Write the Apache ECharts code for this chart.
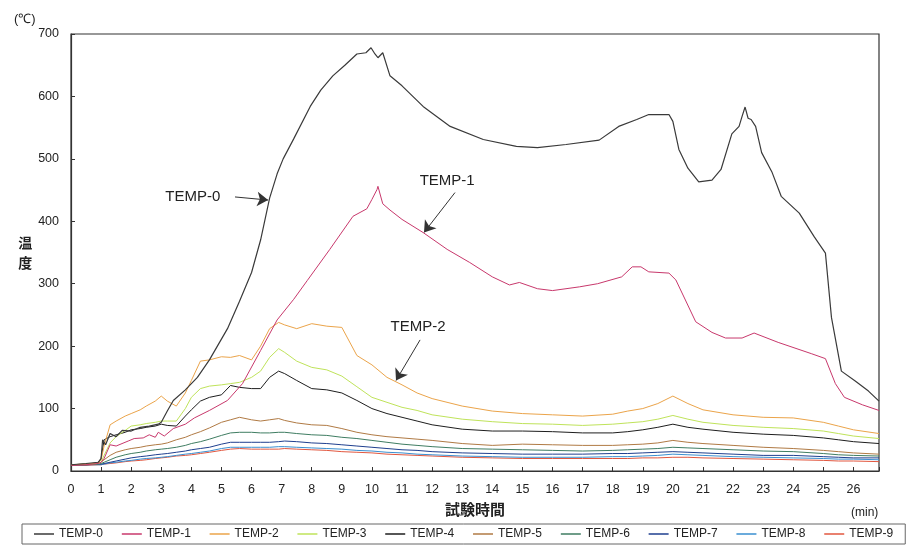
<!DOCTYPE html>
<html>
<head>
<meta charset="utf-8">
<title>温度測定</title>
<script src="https://cdn.jsdelivr.net/npm/echarts@6/dist/echarts.min.js"></script>
<style>
  html, body { margin: 0; padding: 0; background: #fff; }
  #chart { width: 910px; height: 546px; }
</style>
</head>
<body>
<div id="chart"></div>
<script>
// Time axis (min) shared by TEMP-2 … TEMP-9
const timeCommon = [0, 0.5, 0.9, 1.0, 1.1, 1.3, 1.5, 1.8, 2.0, 2.3, 2.5, 2.8, 3.0, 3.2, 3.5, 3.8, 4.0, 4.3, 4.6, 5.0,
  5.3, 5.6, 6.0, 6.3, 6.6, 6.9, 7.1, 7.5, 8.0, 8.5, 9.0, 9.5, 10.0, 10.5, 11.0, 11.5, 12, 13, 14, 15,
  16, 17, 18, 18.5, 19, 19.5, 20, 20.5, 21, 22, 23, 24, 25, 25.5, 26, 26.85];

// TEMP-0 has its own, finer time base
const time0 = [0, 0.5, 0.9, 1.0, 1.05, 1.15, 1.3, 1.5, 1.7, 2.0, 2.3, 2.6, 2.9, 3.0, 3.2, 3.4, 3.8, 4.2, 4.6, 5.2,
  5.6, 6.0, 6.3, 6.6, 6.85, 7.05, 7.4, 7.95, 8.3, 8.7, 9.1, 9.5, 9.8, 9.97, 10.1, 10.2, 10.36, 10.6, 11.0, 11.7,
  12.6, 13.7, 14.8, 15.5, 16.45, 17.55, 18.2, 18.8, 19.2, 19.87, 20.0, 20.2, 20.5, 20.86, 21.3, 21.6, 21.96, 22.2, 22.3, 22.4,
  22.5, 22.6, 22.75, 22.95, 23.3, 23.6, 24.2, 24.7, 25.07, 25.27, 25.6, 26.06, 26.5, 26.85];
const temp0 = [10, 12, 14, 20, 50, 42, 60, 55, 65, 64, 70, 72, 75, 78, 96, 113, 130, 150, 178, 228,
  272, 318, 370, 437, 476, 500, 532, 584, 610, 633, 650, 668, 670, 678, 668, 662, 670, 633, 617, 584,
  552, 531, 520, 518, 523, 530, 552, 563, 571, 571, 560, 515, 485, 463, 466, 483, 540, 552, 568, 583,
  565, 563, 552, 510, 478, 440, 413, 375, 349, 246, 160, 144, 128, 112];

// TEMP-1 time base
const time1 = [0, 0.5, 0.9, 1.0, 1.1, 1.3, 1.5, 1.9, 2.1, 2.4, 2.6, 2.8, 2.9, 3.1, 3.4, 3.8, 4.1, 4.6, 5.2, 5.7,
  6.3, 6.85, 7.4, 7.85, 8.6, 9.37, 9.83, 10.0, 10.17, 10.2, 10.36, 10.6, 11.0, 11.7, 12.5, 13.25, 14.0, 14.57, 14.9, 15.5,
  16.0, 16.9, 17.5, 18.3, 18.65, 18.94, 19.2, 19.87, 20.1, 20.76, 21.3, 21.75, 22.3, 22.7, 23.5, 24.6, 25.07, 25.4, 25.7, 26.3, 26.85];
const temp1 = [9, 10, 12, 14, 20, 42, 40, 48, 52, 53, 58, 54, 62, 56, 68, 75, 85, 97, 113, 140,
  193, 242, 275, 305, 355, 408, 420, 435, 451, 456, 428, 418, 403, 382, 355, 334, 311, 298, 302, 292,
  289, 295, 300, 311, 327, 327, 319, 317, 306, 239, 222, 213, 213, 221, 206, 188, 180, 140, 118, 106, 97];

const temp2 = [10, 11, 13, 18, 40, 74, 80, 88, 92, 98, 104, 112, 120, 112, 104, 125, 145, 176, 178, 183,
  182, 185, 178, 200, 228, 238, 234, 228, 236, 232, 230, 185, 170, 150, 138, 125, 116, 104, 96, 92,
  90, 88, 91, 96, 100, 108, 120, 108, 98, 90, 86, 85, 78, 72, 66, 60];
const temp3 = [10, 11, 12, 14, 25, 45, 55, 65, 72, 74, 76, 78, 80, 80, 80, 100, 118, 132, 136, 138,
  140, 142, 150, 160, 182, 196, 190, 176, 166, 162, 152, 135, 118, 110, 102, 97, 90, 83, 79, 76,
  75, 73, 75, 77, 79, 83, 89, 83, 78, 73, 70, 68, 64, 60, 56, 52];
const temp4 = [10, 11, 13, 20, 50, 55, 58, 62, 66, 68, 70, 72, 75, 73, 72, 88, 98, 112, 118, 122,
  137, 134, 132, 132, 150, 160, 156, 145, 132, 130, 125, 113, 100, 92, 86, 80, 74, 67, 64, 64,
  63, 61, 61, 63, 66, 70, 75, 70, 67, 62, 59, 57, 53, 50, 47, 44];
const temp5 = [10, 11, 12, 14, 18, 25, 30, 34, 36, 38, 40, 42, 43, 45, 50, 54, 58, 63, 69, 78,
  82, 86, 82, 80, 82, 84, 81, 77, 74, 73, 68, 62, 58, 55, 53, 51, 49, 44, 41, 43,
  42, 41, 41, 42, 43, 45, 49, 46, 44, 41, 38, 36, 33, 31, 29, 27];
const temp6 = [10, 10, 11, 12, 14, 18, 22, 26, 28, 30, 32, 34, 35, 36, 38, 41, 44, 47, 51, 57,
  61, 62, 62, 61, 61, 62, 62, 60, 58, 57, 54, 52, 49, 46, 43, 41, 39, 36, 35, 34,
  33, 32, 33, 34, 35, 36, 38, 37, 36, 34, 32, 31, 28, 26, 25, 24];
const temp7 = [10, 10, 11, 11, 12, 14, 16, 19, 21, 23, 24, 26, 27, 28, 30, 32, 34, 36, 38, 43,
  46, 46, 46, 46, 46, 47, 48, 47, 45, 44, 42, 40, 38, 36, 34, 33, 31, 29, 28, 27,
  27, 27, 28, 28, 29, 30, 31, 30, 29, 27, 25, 25, 23, 22, 21, 21];
const temp8 = [10, 10, 10, 10, 11, 13, 14, 16, 17, 19, 20, 21, 22, 23, 25, 27, 28, 30, 32, 36,
  38, 38, 38, 38, 38, 39, 39, 38, 37, 36, 35, 33, 32, 30, 29, 27, 26, 24, 23, 22,
  22, 22, 23, 23, 24, 25, 27, 26, 25, 23, 22, 21, 20, 19, 19, 18];
const temp9 = [9, 9, 10, 10, 11, 12, 13, 15, 16, 17, 18, 20, 21, 22, 24, 25, 26, 28, 30, 33,
  35, 36, 35, 35, 35, 35, 36, 35, 34, 33, 31, 30, 29, 27, 26, 25, 24, 22, 21, 20,
  20, 20, 20, 20, 21, 21, 22, 22, 21, 20, 19, 18, 17, 16, 16, 15];

const seriesNames = ['TEMP-0', 'TEMP-1', 'TEMP-2', 'TEMP-3', 'TEMP-4', 'TEMP-5', 'TEMP-6', 'TEMP-7', 'TEMP-8', 'TEMP-9'];
const seriesColors = ['#3a3a3a', '#c8386c', '#eba44a', '#bfe35a', '#1e1e1e', '#b07a44', '#3f7d62', '#1f3f8f', '#3a8fd0', '#e2573f'];
const yTicks = [0, 100, 200, 300, 400, 500, 600, 700];

const seriesValues = [temp0, temp1, temp2, temp3, temp4, temp5, temp6, temp7, temp8, temp9];
const seriesTimes = [time0, time1, timeCommon, timeCommon, timeCommon, timeCommon, timeCommon, timeCommon, timeCommon, timeCommon];

// Callout labels with arrows, in data coordinates [time, temperature]
const callouts = [
  { text: 'TEMP-0', at: [4.05, 439], from: [5.45, 439], to: [6.55, 434] },
  { text: 'TEMP-1', at: [12.5, 465], from: [12.76, 446], to: [11.73, 382] },
  { text: 'TEMP-2', at: [11.53, 231], from: [11.6, 210], to: [10.8, 145] }
];

const pair = (ts, vs) => ts.map((t, i) => [t, vs[i]]);

const chart = echarts.init(document.getElementById('chart'), null, { renderer: 'canvas' });

const series = seriesNames.map((name, i) => ({
  name,
  type: 'line',
  data: pair(seriesTimes[i], seriesValues[i]),
  symbol: 'none',
  smooth: false,
  z: 10 - i,
  lineStyle: { color: seriesColors[i], width: i === 0 ? 1.2 : 1 },
  itemStyle: { color: seriesColors[i] },
  emphasis: { disabled: true }
}));

// Arrows and callout texts ride on the first series
series[0].markLine = {
  silent: true,
  symbol: ['none', 'arrow'],
  symbolSize: 11,
  lineStyle: { color: '#333', width: 1, type: 'solid' },
  itemStyle: { color: '#333' },
  label: { show: false },
  data: callouts.map(c => [{ coord: c.from }, { coord: c.to }])
};
series[0].markPoint = {
  silent: true,
  symbol: 'circle',
  symbolSize: 0,
  label: {
    show: true,
    position: 'inside',
    color: '#222',
    fontSize: 15,
    fontFamily: 'Liberation Sans, Arial, sans-serif',
    formatter: p => p.name
  },
  data: callouts.map(c => ({ name: c.text, coord: c.at }))
};

chart.setOption({
  animation: false,
  backgroundColor: '#ffffff',
  textStyle: { fontFamily: 'Liberation Sans, Arial, sans-serif' },
  grid: {
    left: 71, right: 31, top: 34, bottom: 75,
    show: true, borderColor: '#333', borderWidth: 1.2, backgroundColor: 'transparent'
  },
  legend: {
    data: seriesNames,
    left: 22, bottom: 2,
    width: 875,
    padding: [4, 12],
    itemGap: 18.8,
    itemWidth: 20,
    itemHeight: 1.5,
    icon: 'rect',
    borderColor: '#666',
    borderWidth: 1,
    textStyle: { color: '#222', fontSize: 12, fontFamily: 'Liberation Sans, Arial, sans-serif' }
  },
  xAxis: {
    type: 'value',
    min: 0, max: 26.85, interval: 1,
    name: '試験時間',
    nameLocation: 'middle',
    nameGap: 31,
    nameTextStyle: { fontFamily: 'Noto Sans CJK JP', fontWeight: 'bold', fontSize: 15, color: '#222' },
    axisLine: { show: true, lineStyle: { color: '#333', width: 1.2 } },
    axisTick: { show: true, inside: true, length: 4, lineStyle: { color: '#333' } },
    axisLabel: {
      color: '#222', fontSize: 12.5, margin: 12,
      formatter: v => (Number.isInteger(v) ? String(v) : '')
    },
    splitLine: { show: false }
  },
  yAxis: {
    type: 'value',
    min: yTicks[0], max: yTicks[yTicks.length - 1], interval: 100,
    name: '温\n度',
    nameLocation: 'middle',
    nameRotate: 0,
    nameGap: 20,
    nameTextStyle: { fontFamily: 'Noto Sans CJK JP', fontWeight: 'bold', fontSize: 14, color: '#222', lineHeight: 20 },
    axisLine: { show: true, lineStyle: { color: '#333', width: 1.2 } },
    axisTick: { show: true, inside: true, length: 4, lineStyle: { color: '#333' } },
    axisLabel: { color: '#222', fontSize: 12.5, margin: 12 },
    splitLine: { show: false }
  },
  graphic: [
    { type: 'text', left: 14, top: 13, style: { text: '(℃)', fontSize: 13, fill: '#222', fontFamily: 'Liberation Sans, Arial, sans-serif' } },
    { type: 'text', left: 851, top: 507, style: { text: '(min)', fontSize: 12, fill: '#222', fontFamily: 'Liberation Sans, Arial, sans-serif' } }
  ],
  series
});
</script>
</body>
</html>
